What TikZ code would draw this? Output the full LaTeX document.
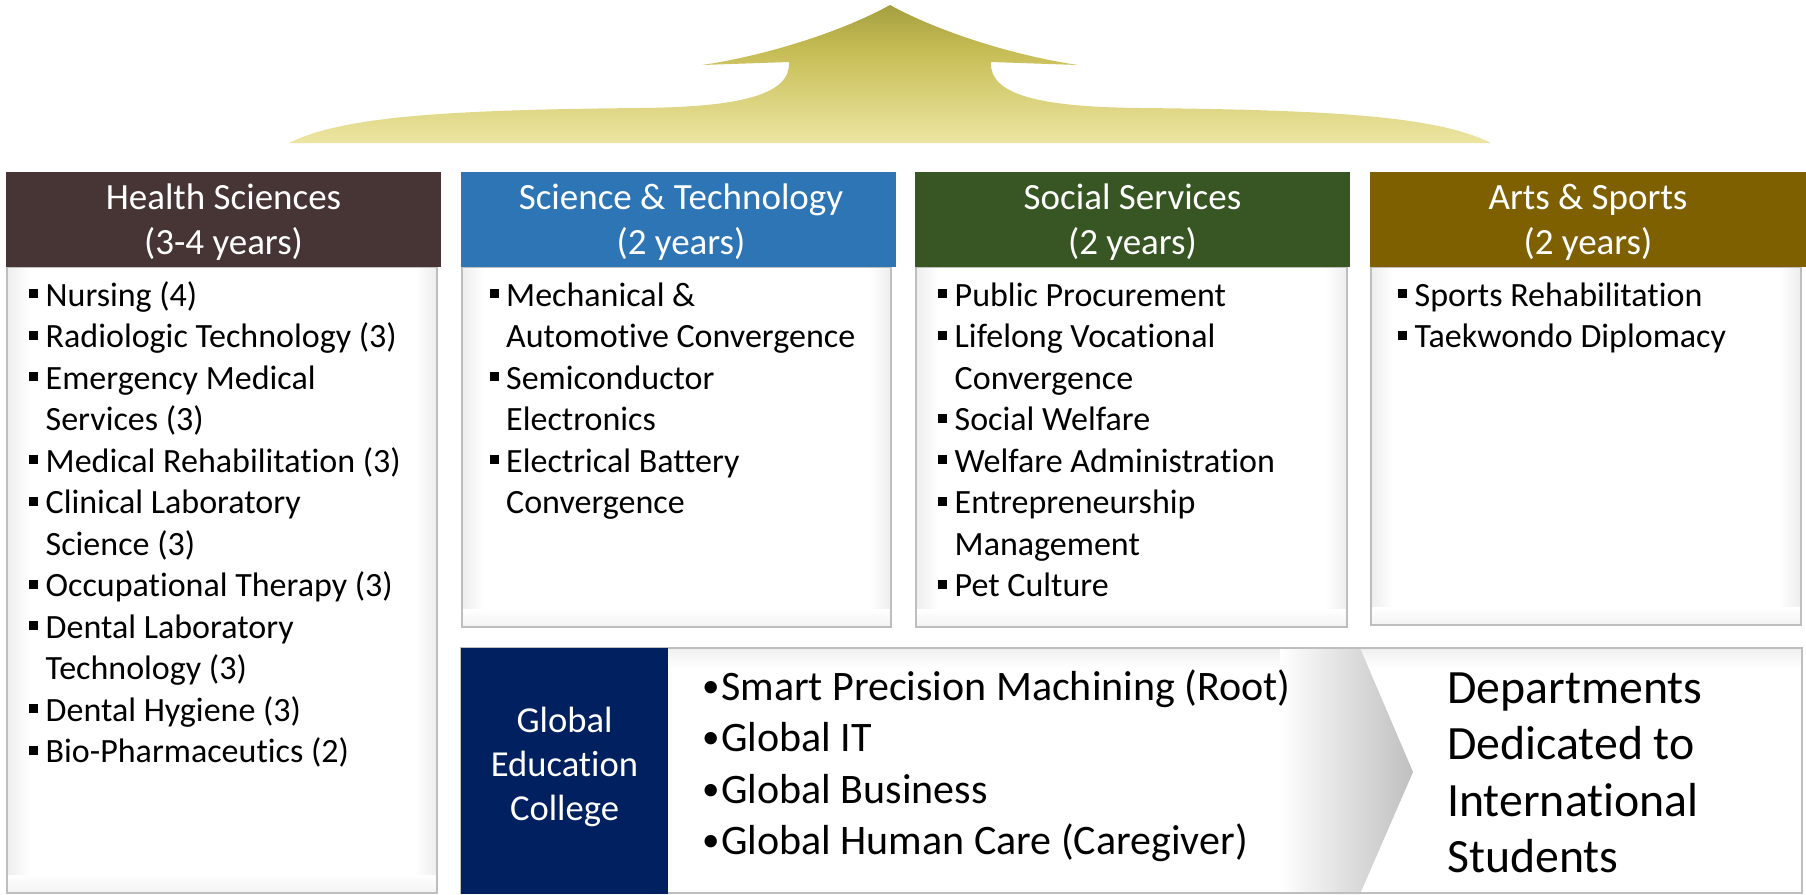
\documentclass[tikz,border=0pt]{standalone}
\usepackage{fontspec}
\setmainfont{Carlito}[Ligatures=NoCommon]
\definecolor{healthc}{RGB}{70,53,52}
\definecolor{scic}{RGB}{46,117,182}
\definecolor{socc}{RGB}{55,86,35}
\definecolor{artc}{RGB}{127,96,0}
\definecolor{navyc}{RGB}{0,32,96}
\definecolor{bordc}{RGB}{190,190,190}
\definecolor{arrA}{RGB}{254,253,245}
\definecolor{arrB}{RGB}{238,231,165}
\definecolor{arrC}{RGB}{198,188,84}
\definecolor{arrD}{RGB}{150,146,55}
\definecolor{arrE}{RGB}{108,106,34}
\pgfdeclareverticalshading{arrowsh}{100bp}{color(0bp)=(arrA); color(24bp)=(arrB); color(59bp)=(arrC); color(82bp)=(arrD); color(100bp)=(arrE)}
\newcommand\bsq{\rule[8pt]{9pt}{9pt}\hspace{7.5pt}}
\newcommand\ind{\hspace*{16.5pt}}
\newcommand\gbul{\makebox[19pt][l]{\raisebox{3pt}{\fontsize{35}{35}\selectfont •}}}
\newcommand\bodypanel[4]{%
  \fill[white] (#1,#2) rectangle (#3,#4);
  \shade[left color=gray!14, right color=white] (#1,#2) rectangle ({#1+22},#4);
  \shade[left color=white, right color=gray!14] ({#3-22},#2) rectangle (#3,#4);
  \shade[top color=white, bottom color=gray!10] (#1,{#4-18}) rectangle (#3,#4);
  \draw[bordc, line width=1.3pt] (#1,#2) rectangle (#3,#4);}
\begin{document}
\begin{tikzpicture}[x=1pt,y=-1pt,
  htext/.style={text=white, font=\fontsize{37}{45}\selectfont, align=center, inner sep=0pt},
  litem/.style={anchor=base west, inner sep=0pt, font=\fontsize{34}{41.5}\selectfont},
  gitem/.style={anchor=base west, inner sep=0pt, font=\fontsize{42}{51}\selectfont},
  ditem/.style={anchor=base west, inner sep=0pt, font=\fontsize{47.8}{56}\selectfont},
  gtext/.style={text=white, font=\fontsize{36.6}{44}\selectfont, align=center, inner sep=0pt}]
\useasboundingbox (0,0) rectangle (1806,894);
\fill[white] (0,0) rectangle (1806,894);

% upward arrow
\path[shading=arrowsh]
  (890,5) .. controls (845,30) and (770,55) .. (702,65) -- (789,62)
  .. controls (791,95) and (740,107) .. (640,108)
  .. controls (430,110) and (340,118) .. (289,143) -- (1491,143)
  .. controls (1440,118) and (1350,110) .. (1140,108)
  .. controls (1040,107) and (989,95) .. (991,62) -- (1078,65)
  .. controls (1010,55) and (935,30) .. (890,5) -- cycle;

% body panels
\bodypanel{7}{267}{437}{893}
\bodypanel{462}{267}{891}{627}
\bodypanel{916}{267}{1347}{627}
\bodypanel{1371}{267}{1801}{625}

% headers
\fill[healthc] (6,172) rectangle (441,267);
\fill[scic] (461,172) rectangle (896,267);
\fill[socc] (915,172) rectangle (1350,267);
\fill[artc] (1370,172) rectangle (1806,267);
\node[htext] (hh) at (223.5,222) {Health Sciences\\(3-4 years)};
\node[htext] (hs) at (681,222) {Science \& Technology\\(2 years)};
\node[htext] (ho) at (1132.5,222) {Social Services\\(2 years)};
\node[htext] (ha) at (1588,222) {Arts \& Sports\\(2 years)};

% Health list
\node[litem] (a0) at (29,306) {\bsq Nursing (4)};
\node[litem] (a1) at (29,347.5) {\bsq Radiologic Technology (3)};
\node[litem] (a2) at (29,389) {\bsq Emergency Medical};
\node[litem] (a3) at (29,430.5) {\ind Services (3)};
\node[litem] (a4) at (29,472) {\bsq Medical Rehabilitation (3)};
\node[litem] (a5) at (29,513.5) {\bsq Clinical Laboratory};
\node[litem] (a6) at (29,555) {\ind Science (3)};
\node[litem] (a7) at (29,596.5) {\bsq Occupational Therapy (3)};
\node[litem] (a8) at (29,638) {\bsq Dental Laboratory};
\node[litem] (a9) at (29,679.5) {\ind Technology (3)};
\node[litem] (a10) at (29,721) {\bsq Dental Hygiene (3)};
\node[litem] (a11) at (29,762.5) {\bsq Bio-Pharmaceutics (2)};

% Science list
\node[litem] (b0) at (489.5,306) {\bsq Mechanical \&};
\node[litem] (b1) at (489.5,347.5) {\ind Automotive Convergence};
\node[litem] (b2) at (489.5,389) {\bsq Semiconductor};
\node[litem] (b3) at (489.5,430.5) {\ind Electronics};
\node[litem] (b4) at (489.5,472) {\bsq Electrical Battery};
\node[litem] (b5) at (489.5,513.5) {\ind Convergence};

% Social list
\node[litem] (c0) at (938,306) {\bsq Public Procurement};
\node[litem] (c1) at (938,347.5) {\bsq Lifelong Vocational};
\node[litem] (c2) at (938,389) {\ind Convergence};
\node[litem] (c3) at (938,430.5) {\bsq Social Welfare};
\node[litem] (c4) at (938,472) {\bsq Welfare Administration};
\node[litem] (c5) at (938,513.5) {\bsq Entrepreneurship};
\node[litem] (c6) at (938,555) {\ind Management};
\node[litem] (c7) at (938,596.5) {\bsq Pet Culture};

% Arts list
\node[litem] (d0) at (1398,306) {\bsq Sports Rehabilitation};
\node[litem] (d1) at (1398,347.5) {\bsq Taekwondo Diplomacy};

% Global education panel
\fill[white] (461,648) rectangle (1802,893);
\shade[top color=gray!12, bottom color=white] (461,648) rectangle (1802,668);
\begin{scope}
  \clip (668,648) -- (1360,648) -- (1413,772) -- (1360,894) -- (668,894) -- cycle;
  \shade[left color=white, right color=gray!50] (1280,648) rectangle (1413,894);
\end{scope}
\draw[bordc, line width=1.3pt] (461,648) rectangle (1802,893);
\fill[navyc] (461,648) rectangle (668,894);
\node[gtext] (gec) at (564.5,767) {Global\\Education\\College};

\node[gitem] (g0) at (702,700) {\gbul Smart Precision Machining (Root)};
\node[gitem] (g1) at (702,751.5) {\gbul Global IT};
\node[gitem] (g2) at (702,803) {\gbul Global Business};
\node[gitem] (g3) at (702,854.5) {\gbul Global Human Care (Caregiver)};

\node[ditem] (e0) at (1447,703) {Departments};
\node[ditem] (e1) at (1447,759.5) {Dedicated to};
\node[ditem] (e2) at (1447,816) {International};
\node[ditem] (e3) at (1447,872) {Students};
\end{tikzpicture}
\end{document}
